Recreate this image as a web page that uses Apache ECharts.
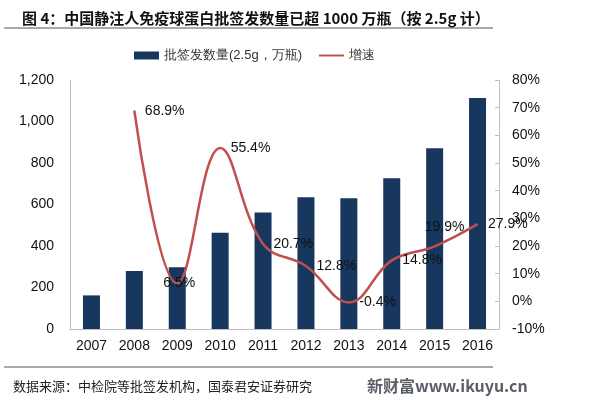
<!DOCTYPE html>
<html>
<head>
<meta charset="utf-8">
<script src="https://cdn.jsdelivr.net/npm/echarts@6/dist/echarts.min.js"></script>
<style>
  html, body { margin: 0; padding: 0; background: #fff; }
  #main { width: 597px; height: 398px; }
</style>
</head>
<body>
<div id="main"></div>
<script>
// 年份
const years = ["2007", "2008", "2009", "2010", "2011", "2012", "2013", "2014", "2015", "2016"];
// 批签发数量（2.5g，万瓶）
const volumes = [162, 280, 297, 464, 562, 635, 630, 726, 871, 1113];
// 增速 %
const growth = [null, 68.9, 6.5, 55.4, 20.7, 12.8, -0.4, 14.8, 19.9, 27.9];

const barColor = "#17375e";
const lineColor = "#c0504d";
const axisColor = "#bfbfbf";
const font = "Liberation Sans, Arial, sans-serif";

// label placement per point, by index
const labelPos = { 2: "inside", 8: "top" };
const labelOffset = { 2: [2, 0], 8: [10, 0] };

const myChart = echarts.init(document.getElementById("main"));

const option = {
  animation: false,
  textStyle: { fontFamily: font },
  title: {
    text: "图 4：中国静注人免疫球蛋白批签发数量已超 1000 万瓶（按 2.5g 计）",
    left: 17,
    top: 6,
    textStyle: {
      fontFamily: "Noto Sans CJK SC",
      fontWeight: "bold",
      fontSize: 15,
      color: "#111",
    },
  },
  legend: {
    top: 44,
    left: 129,
    itemGap: 16,
    itemWidth: 25,
    itemHeight: 8,
    textStyle: { fontFamily: font, fontSize: 13, color: "#333" },
    data: [
      { name: "批签发数量(2.5g，万瓶)", icon: "rect" },
      { name: "增速", itemStyle: { opacity: 0 } },
    ],
  },
  graphic: [
    { type: "line", shape: { x1: 4, y1: 28, x2: 493, y2: 28 }, style: { stroke: "#555", lineWidth: 1 } },
    { type: "line", shape: { x1: 4, y1: 367, x2: 493, y2: 367 }, style: { stroke: "#555", lineWidth: 1 } },
    {
      type: "text", left: 13, top: 380,
      style: { text: "数据来源：中检院等批签发机构，国泰君安证券研究", font: "13px 'Noto Sans CJK SC'", fill: "#222" },
    },
    {
      type: "text", left: 367, top: 378,
      style: { text: "新财富www.ikuyu.cn", font: "bold 16px 'Noto Sans CJK SC'", fill: "#5b6068" },
    },
  ],
  grid: { left: 70, right: 98, top: 80, bottom: 69 },
  xAxis: {
    type: "category",
    data: years,
    axisLine: { lineStyle: { color: axisColor } },
    axisTick: { show: false },
    axisLabel: { color: "#111", fontSize: 14, margin: 10 },
  },
  yAxis: [
    {
      type: "value",
      min: 0,
      max: 1200,
      interval: 200,
      axisLine: { show: true, lineStyle: { color: axisColor } },
      axisTick: { show: false },
      splitLine: { show: false },
      axisLabel: {
        color: "#111",
        fontSize: 14,
        margin: 16,
        formatter: (v) => v.toLocaleString("en-US"),
      },
    },
    {
      type: "value",
      min: -10,
      max: 80,
      interval: 10,
      position: "right",
      axisLine: { show: true, lineStyle: { color: axisColor } },
      axisTick: { show: true, inside: true, length: 4, lineStyle: { color: axisColor } },
      splitLine: { show: false },
      axisLabel: { color: "#111", fontSize: 14, margin: 13, formatter: "{value}%" },
    },
  ],
  series: [
    {
      name: "批签发数量(2.5g，万瓶)",
      type: "bar",
      data: volumes,
      barWidth: 17,
      itemStyle: { color: barColor },
    },
    {
      name: "增速",
      type: "line",
      yAxisIndex: 1,
      smooth: 0.4,
      symbol: "circle",
      symbolSize: 1,
      lineStyle: { color: lineColor, width: 2.5 },
      itemStyle: { color: lineColor },
      data: growth.map((v, i) => ({
        value: v,
        label: {
          show: v !== null,
          position: labelPos[i] || "right",
          distance: labelPos[i] === "top" ? 12 : 10,
          offset: labelOffset[i] || [0, 0],
          color: "#111",
          fontSize: 14,
          fontFamily: font,
          formatter: (p) => p.value.toFixed(1) + "%",
        },
      })),
    },
  ],
};

myChart.setOption(option);
</script>
</body>
</html>
